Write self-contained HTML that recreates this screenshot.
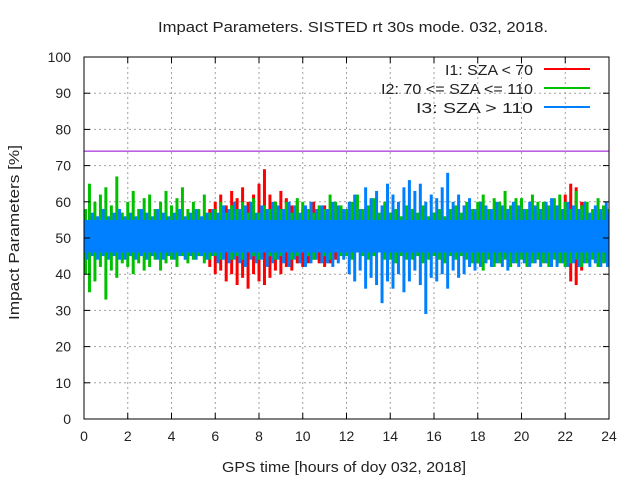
<!DOCTYPE html>
<html><head><meta charset="utf-8"><style>
body{margin:0;background:#fff;}
svg{display:block;font-family:"Liberation Sans",sans-serif;}
</style></head><body>
<svg id="chart" width="640" height="480" viewBox="0 0 640 480" xmlns="http://www.w3.org/2000/svg">
<rect width="640" height="480" fill="#fff"/>
<text x="158" y="32" font-size="15" textLength="390" lengthAdjust="spacingAndGlyphs" fill="#222">Impact Parameters. SISTED rt 30s mode. 032, 2018.</text>
<g id="grid"></g>
<g id="series"></g>
<g id="axes"></g>
<text x="222" y="472" font-size="15" textLength="244" lengthAdjust="spacingAndGlyphs" fill="#222">GPS time [hours of doy 032, 2018]</text>
<text transform="translate(19,320) rotate(-90)" font-size="15" textLength="175" lengthAdjust="spacingAndGlyphs" fill="#222">Impact Parameters [%]</text>
<g font-size="15" fill="#222">
<text x="445" y="75" textLength="88" lengthAdjust="spacingAndGlyphs">I1: SZA &lt; 70</text>
<line x1="544" x2="590" y1="69" y2="69" stroke="#ff0000" stroke-width="2"/>
<text x="381" y="94" textLength="152" lengthAdjust="spacingAndGlyphs">I2: 70 &lt;= SZA &lt;= 110</text>
<line x1="544" x2="590" y1="88" y2="88" stroke="#00c000" stroke-width="2"/>
<text x="416" y="113" textLength="117" lengthAdjust="spacingAndGlyphs">I3: SZA &gt; 110</text>
<line x1="544" x2="590" y1="107" y2="107" stroke="#0080ff" stroke-width="2"/>
</g>
</svg>
<script>
const xTicks=[0,2,4,6,8,10,12,14,16,18,20,22,24];
const yTicks=[0,10,20,30,40,50,60,70,80,90,100];
const refLine=74;
const greenStart=0, step=0.25;
const greenHi=[58,65,60,62,64,59,67,57,60,63,58,61,62,58,60,63,59,61,64,58,60,58,62,57,58,60,57,59,58,60,57,61,57,59,58,60,58,60,57,61,60,58,57,59,58,62,60,59,58,60,62,58,59,61,57,60,57,58,56,59,58,57,59,56,57,58,56,58,59,57,60,58,60,62,58,61,60,63,59,61,61,58,62,60,60,59,61,62,60,58,63,59,60,58,61,59,58];
const greenLo=[40,35,38,42,33,41,39,43,42,40,43,41,42,44,41,43,44,42,45,43,44,45,43,44,45,44,46,44,45,44,46,45,44,46,45,44,45,46,44,45,46,45,44,46,45,44,46,45,45,44,46,45,44,45,46,44,44,43,45,44,44,45,43,44,45,44,43,45,44,45,44,43,43,41,44,42,43,44,42,43,44,42,43,44,43,42,44,43,42,43,44,42,43,44,42,43,44];
const redStart1=5.75;
const redHi1=[58,60,62,59,63,61,64,60,62,65,69,62,60,63,61,59,60,58,57,60,58,59,58,57];
const redLo1=[42,40,41,38,40,37,39,36,40,38,37,39,41,40,42,41,43,42,43,44,43,42,43,44];
const redStart2=22;
const redHi2=[62,65,64,60];
const redLo2=[42,38,37,41];
const blueHi=[55,57,56,58,56,57,58,56,57,56,58,57,56,58,57,56,57,58,56,57,58,56,57,58,57,59,58,60,58,59,60,57,59,58,60,59,58,60,59,57,59,60,58,59,58,60,59,58,60,62,58,64,61,63,59,65,62,60,64,66,63,65,60,62,61,64,68,60,62,59,61,58,60,59,58,60,59,58,60,59,58,60,59,58,60,61,59,58,60,59,58,60,57,59,58,60,57];
const blueLo=[44,45,44,45,44,45,44,44,45,44,45,44,45,44,44,45,44,45,44,45,44,45,44,45,43,44,43,44,43,42,44,43,44,42,43,44,43,42,44,43,42,43,44,43,43,42,43,44,40,38,41,36,39,37,32,38,36,40,35,38,41,37,29,39,38,40,36,41,39,40,42,41,42,43,42,43,42,41,43,42,43,42,43,42,43,42,42,43,42,43,42,43,42,43,42,43,42];
const blueCore=[46,55];
const X0=84,X1=609,Y0=419,Y1=57;
const xs=v=>X0+(v/24)*(X1-X0);
const ys=v=>Y0-(v/100)*(Y0-Y1);
const NS='http://www.w3.org/2000/svg';
function mk(tag,attrs,parent){const e=document.createElementNS(NS,tag);for(const k in attrs)e.setAttribute(k,attrs[k]);parent.appendChild(e);return e;}
const grid=document.getElementById('grid'),axes=document.getElementById('axes'),ser=document.getElementById('series');
xTicks.forEach(t=>{
 if(t>0&&t<24){const g=mk('line',{x1:xs(t),x2:xs(t),y1:Y1,y2:Y0,stroke:'#a0a0a0','stroke-dasharray':'2,3'},grid);
 
 }
 const tk=mk('line',{x1:xs(t),x2:xs(t),y1:Y0,y2:Y0-6,stroke:'#000'},axes);
 
 
 const tk2=mk('line',{x1:xs(t),x2:xs(t),y1:Y1,y2:Y1+6,stroke:'#000'},axes);
 
 
 const l=mk('text',{x:xs(t),y:Y0+22,'font-size':14,'text-anchor':'middle',fill:'#222'},axes);
 l.textContent=t;
 
 
});
yTicks.forEach(t=>{
 if(t>0&&t<100){const g=mk('line',{x1:X0,x2:X1,y1:ys(t),y2:ys(t),stroke:'#a0a0a0','stroke-dasharray':'2,3'},grid);
 
 }
 const tk=mk('line',{x1:X0,x2:X0+6,y1:ys(t),y2:ys(t),stroke:'#000'},axes);
 
 
 const tk2=mk('line',{x1:X1,x2:X1-6,y1:ys(t),y2:ys(t),stroke:'#000'},axes);
 
 
 const l=mk('text',{x:X0-13,y:ys(t)+5,'font-size':14,'text-anchor':'end',fill:'#222'},axes);
 l.textContent=t;
 
 
});
function drawSeries(start,hi,lo,color,name){
 const w=3;
 hi.forEach((h,i)=>{
  const t=start+i*step;
  const x=Math.max(X0,Math.min(X1-w,xs(t)-w/2));
  const r=mk('rect',{x:x,y:ys(h),width:w,height:ys(lo[i])-ys(h),fill:color},ser);
  
  
 });
}
drawSeries(redStart1,redHi1,redLo1,'#ff0000','i1-bar');
drawSeries(redStart2,redHi2,redLo2,'#ff0000','i1-bar');
drawSeries(greenStart,greenHi,greenLo,'#00c000','i2-bar');
drawSeries(greenStart+step/2,blueHi,blueLo,'#0080ff','i3-bar');
const core=mk('rect',{x:X0,y:ys(blueCore[1]),width:X1-X0,height:ys(blueCore[0])-ys(blueCore[1]),fill:'#0080ff'},ser);


const rl=mk('line',{x1:X0,x2:X1,y1:ys(refLine),y2:ys(refLine),stroke:'#9400d3','stroke-width':1},ser);


const b=mk('rect',{x:X0,y:Y1,width:X1-X0,height:Y0-Y1,fill:'none',stroke:'#000'},axes);


</script>
</body></html>
